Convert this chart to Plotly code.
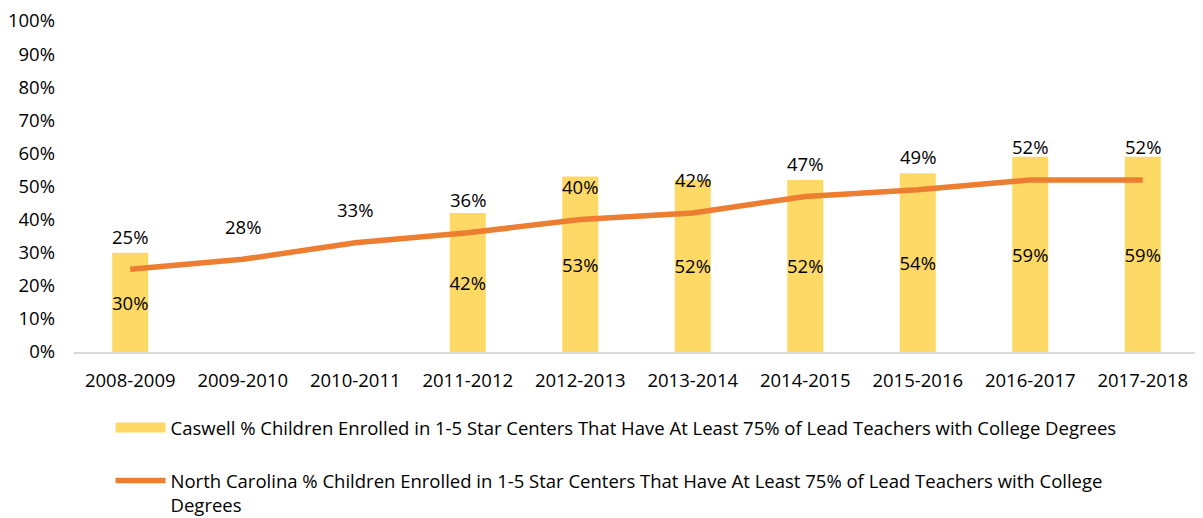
import plotly.graph_objects as go

years = ["2008-2009", "2009-2010", "2010-2011", "2011-2012", "2012-2013",
         "2013-2014", "2014-2015", "2015-2016", "2016-2017", "2017-2018"]
caswell = [30, None, None, 42, 53, 52, 52, 54, 59, 59]
nc = [25, 28, 33, 36, 40, 42, 47, 49, 52, 52]

caswell_name = "Caswell % Children Enrolled in 1-5 Star Centers That Have At Least 75% of Lead Teachers with College Degrees"
nc_name = "North Carolina % Children Enrolled in 1-5 Star Centers That Have At Least 75% of Lead Teachers with College<br>Degrees"

FONT = "Open Sans"
FS = 18.5
YELLOW = "#FFD966"
ORANGE = "#ED7D31"

fig = go.Figure()
fig.add_trace(go.Bar(
    x=years, y=caswell, name=caswell_name,
    marker=dict(color=YELLOW, line=dict(width=0)),
    text=[f"{v}%" if v is not None else "" for v in caswell],
    textposition="inside", insidetextanchor="middle", textangle=0,
    constraintext="none", cliponaxis=False,
    textfont=dict(family=FONT, size=FS, color="#000000"),
    width=0.32, showlegend=False, hoverinfo="skip",
))
# legend entry for the bars (wide rectangle swatch)
fig.add_trace(go.Scatter(
    x=[None], y=[None], name=caswell_name, mode="lines",
    line=dict(color=YELLOW, width=11), legendgroup="a", hoverinfo="skip",
))
fig.add_trace(go.Scatter(
    x=years, y=nc, name=nc_name, mode="lines",
    line=dict(color=ORANGE, width=5.5),
    legendgroup="b", hoverinfo="skip",
))
for x, v in zip(years, nc):
    fig.add_annotation(x=x, y=v, text=f"{v}%", showarrow=False, yshift=33,
                       font=dict(family=FONT, size=FS, color="#000000"))

# page body has an 8px default margin, so the figure is sized to fit the window
fig.update_layout(
    width=1195, height=510,
    margin=dict(l=66, r=4, t=13, b=166, autoexpand=False),
    plot_bgcolor="white", paper_bgcolor="white",
    font=dict(family=FONT, size=FS, color="#000000"),
    showlegend=True,
    legend=dict(orientation="v", x=0.0325, y=-0.172, xanchor="left", yanchor="top",
                traceorder="grouped", tracegroupgap=26, valign="top",
                font=dict(family=FONT, size=FS, color="#000000"),
                itemwidth=50),
    xaxis=dict(showline=True, linecolor="#D9D9D9", linewidth=1.5, ticks="",
               ticklabelstandoff=11, showgrid=False, automargin=False),
    yaxis=dict(range=[0, 100], dtick=10, ticksuffix="%", showgrid=False,
               zeroline=False, showline=False, ticklabelstandoff=18,
               automargin=False, ticklabeloverflow="allow"),
)
fig.write_html("out.html")
